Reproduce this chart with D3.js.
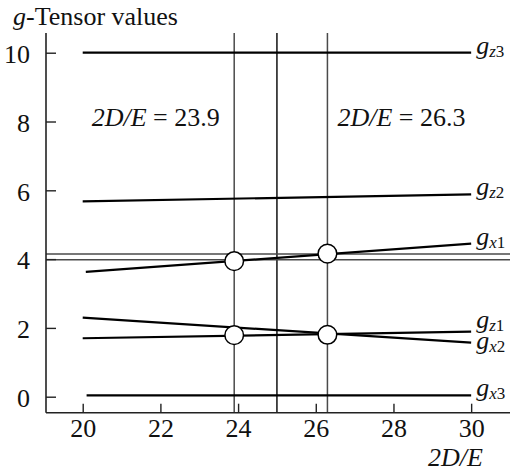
<!DOCTYPE html>
<html>
<head>
<meta charset="utf-8">
<script src="https://cdn.jsdelivr.net/npm/d3@7/dist/d3.min.js"></script>
<style>
  html, body { margin: 0; padding: 0; background: #fff; }
  svg { display: block; font-family: "Liberation Serif", "Times New Roman", "DejaVu Serif", serif; }
</style>
</head>
<body>
<svg id="chart" width="515" height="472"></svg>
<script>
// g-tensor components versus 2D/E (straight lines between two end points)
const seriesNames = ["z3", "z2", "x1", "z1", "x2", "x3"];
const seriesX0 = [20.0, 20.0, 20.08, 20.0, 20.0, 20.1];
const seriesX1 = [30.0, 30.0, 30.0, 30.0, 30.0, 30.0];
const seriesY0 = [10.0, 5.68, 3.63, 1.70, 2.30, 0.04];
const seriesY1 = [10.0, 5.88, 4.45, 1.89, 1.57, 0.04];

// Vertical reference lines and annotated crossing points
const verticalMarks = [23.9, 25.0, 26.3];
const horizontalMarks = [3.98, 4.15];
const crossX = [23.9, 26.3, 23.9, 26.3];
const crossY = [3.94, 4.16, 1.79, 1.80];
const annotations = [{ x: 23.9, value: "23.9" }, { x: 26.3, value: "26.3" }];

const xTicks = [20, 22, 24, 26, 28, 30];
const yTicks = [0, 2, 4, 6, 8, 10];

const svg = d3.select("#chart");
const mLeft = 46, mRight = 510, mTop = 33, mBottom = 412.7;
const serif = "'Liberation Serif', 'Times New Roman', serif";

const x = d3.scaleLinear().domain([19.055, 31.0]).range([mLeft, mRight]);
const y = d3.scaleLinear().domain([-0.465, 10.573]).range([mBottom, mTop]);

const gray = "#4a4a4a";

// vertical reference lines
svg.append("g").selectAll("line").data(verticalMarks).join("line")
  .attr("x1", d => x(d)).attr("x2", d => x(d))
  .attr("y1", mTop).attr("y2", mBottom)
  .attr("stroke", (d, i) => i === 1 ? "#111" : gray)
  .attr("stroke-width", 1.5);

// horizontal reference lines
svg.append("g").selectAll("line").data(horizontalMarks).join("line")
  .attr("x1", mLeft).attr("x2", mRight)
  .attr("y1", d => y(d)).attr("y2", d => y(d))
  .attr("stroke", gray).attr("stroke-width", 1.5);

// axes
const xAxis = d3.axisBottom(x).tickValues(xTicks).tickSizeInner(-9).tickSizeOuter(0).tickPadding(6);
const yAxis = d3.axisLeft(y).tickValues(yTicks).tickSizeInner(-10).tickSizeOuter(0).tickPadding(16);

const gx = svg.append("g").attr("transform", `translate(0,${mBottom})`).call(xAxis);
const gy = svg.append("g").attr("transform", `translate(${mLeft},0)`).call(yAxis);

[gx, gy].forEach(g => {
  g.attr("font-family", serif).attr("font-size", 26);
  g.select(".domain").attr("stroke", "#222").attr("stroke-width", 1.6);
  g.selectAll(".tick line").attr("stroke", "#222").attr("stroke-width", 1.4);
  g.selectAll(".tick text").attr("fill", "#111");
});
gx.select(".domain").attr("d", `M${mLeft},0H${mRight}`);
gy.select(".domain").attr("d", `M0,${mTop}V${mBottom}`);
gy.selectAll(".tick text").attr("dy", "0.38em");

// data lines
const series = seriesNames.map((n, i) => ({
  name: n, x0: seriesX0[i], x1: seriesX1[i], y0: seriesY0[i], y1: seriesY1[i]
}));

const line = d3.line().x(d => x(d[0])).y(d => y(d[1]));
svg.append("g").selectAll("path").data(series).join("path")
  .attr("d", d => line([[d.x0, d.y0], [d.x1, d.y1]]))
  .attr("fill", "none").attr("stroke", "#000").attr("stroke-width", 2.2);

// end labels, nudged apart when they would collide
const minGap = 21;
const labels = series.map(d => ({ name: d.name, ly: y(d.y1) }))
  .sort((a, b) => a.ly - b.ly);
for (let pass = 0; pass < 5; pass++) {
  for (let i = 1; i < labels.length; i++) {
    const gap = labels[i].ly - labels[i - 1].ly;
    if (gap < minGap) {
      const shift = (minGap - gap) / 2;
      labels[i - 1].ly -= shift;
      labels[i].ly += shift;
    }
  }
}
const lab = svg.append("g").selectAll("text").data(labels).join("text")
  .attr("x", x(30) + 5).attr("y", d => d.ly + 1)
  .style("font-size", "26px").attr("fill", "#111");
lab.append("tspan").style("font-style", "italic").text("g");
lab.append("tspan").attr("dy", 3).style("font-size", "17px").style("font-style", "italic")
  .text(d => d.name[0]);
lab.append("tspan").style("font-size", "17px").text(d => d.name.slice(1));

// crossing points
svg.append("g").selectAll("circle").data(crossX.map((cx, i) => [cx, crossY[i]])).join("circle")
  .attr("cx", d => x(d[0])).attr("cy", d => y(d[1])).attr("r", 9.3)
  .attr("fill", "#fff").attr("stroke", "#000").attr("stroke-width", 1.5);

// annotations
const ann = svg.append("g").selectAll("text").data(annotations).join("text")
  .attr("x", (d, i) => i === 0 ? x(d.x) - 142.5 : x(d.x) + 10)
  .attr("y", 126).style("font-size", "26px").attr("fill", "#111");
ann.append("tspan").style("font-style", "italic").text("2D/E");
ann.append("tspan").text(d => " = " + d.value);

// axis titles
const yt = svg.append("text").attr("x", 13).attr("y", 25).style("font-size", "26px").attr("fill", "#111");
yt.append("tspan").style("font-style", "italic").text("g");
yt.append("tspan").text("-Tensor values");

svg.append("text").attr("x", 428).attr("y", 466).style("font-size", "26px")
  .style("font-style", "italic").attr("fill", "#111").text("2D/E");
</script>
</body>
</html>
